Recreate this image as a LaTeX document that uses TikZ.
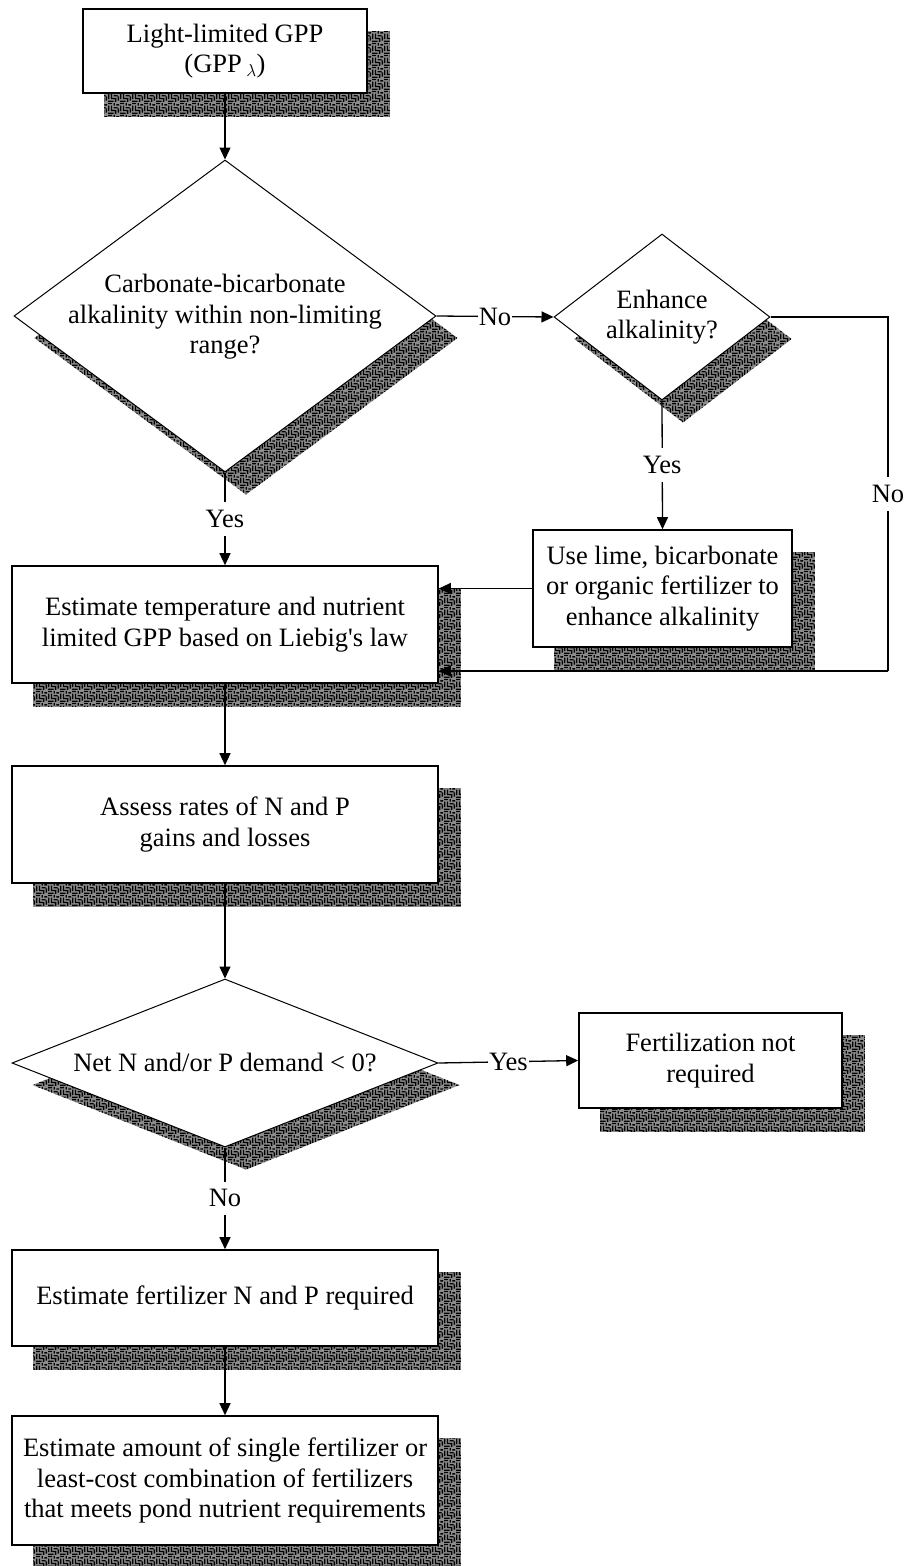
\documentclass[tikz,border=0pt]{standalone}
\usepackage{fontspec}
\setmainfont{Liberation Serif}
\usetikzlibrary{arrows.meta,shapes.geometric,patterns,backgrounds}
\pgfdeclarepatternformonly{maze}{\pgfpointorigin}{\pgfpoint{12pt}{12pt}}{\pgfpoint{12pt}{12pt}}{%
  \pgfpathrectangle{\pgfpoint{0pt}{0pt}}{\pgfpoint{6pt}{1.5pt}}%
  \pgfpathrectangle{\pgfpoint{7.5pt}{0pt}}{\pgfpoint{1.5pt}{4.5pt}}%
  \pgfpathrectangle{\pgfpoint{0pt}{3pt}}{\pgfpoint{1.5pt}{6pt}}%
  \pgfpathrectangle{\pgfpoint{3pt}{3pt}}{\pgfpoint{4.5pt}{1.5pt}}%
  \pgfpathrectangle{\pgfpoint{3pt}{4.5pt}}{\pgfpoint{1.5pt}{4.5pt}}%
  \pgfpathrectangle{\pgfpoint{6pt}{6pt}}{\pgfpoint{4.5pt}{1.5pt}}%
  \pgfpathrectangle{\pgfpoint{10.5pt}{1.5pt}}{\pgfpoint{1.5pt}{4.5pt}}%
  \pgfpathrectangle{\pgfpoint{6pt}{9pt}}{\pgfpoint{1.5pt}{3pt}}%
  \pgfpathrectangle{\pgfpoint{9pt}{9pt}}{\pgfpoint{3pt}{1.5pt}}%
  \pgfpathrectangle{\pgfpoint{0pt}{10.5pt}}{\pgfpoint{4.5pt}{1.5pt}}%
  \pgfusepath{fill}}
\begin{document}
\begin{tikzpicture}[x=1pt,y=-1pt,
  txtfont/.style={font=\fontsize{26.5}{30.5}\selectfont},
  box/.style={draw, line width=1.6pt, fill=white, inner sep=0pt, align=center, txtfont},
  dia/.style={draw, line width=1pt, fill=white, shape=diamond, inner sep=0pt},
  txt/.style={inner sep=0pt, align=center, txtfont},
  lbl/.style={fill=white, inner xsep=1pt, inner ysep=8pt, txtfont},
  conn/.style={line width=1.3pt, -{Triangle[length=12pt,width=11pt]}},
  plain/.style={line width=1.3pt},
  shadeback/.style={fill=black!45},
  shade/.style={pattern=maze, pattern color=black}]
\useasboundingbox (0,0) rectangle (905,1566);

% nodes
\node[box, minimum width=284, minimum height=84] (b1) at (225,51) {Light-limited GPP\\(GPP\,$_{\lambda}$)};
\node[dia, minimum width=422, minimum height=312] (d1) at (225,316) {};
\node[txt] (t1) at (225,317) {Carbonate-bicarbonate\\alkalinity within non-limiting\\range?};
\node[dia, minimum width=216, minimum height=166] (d2) at (662,317) {};
\node[txt] (t2) at (662,317) {Enhance\\alkalinity?};
\node[box, minimum width=259, minimum height=117] (b4) at (662.5,588.5) {Use lime, bicarbonate\\or organic fertilizer to\\enhance alkalinity};
\node[box, minimum width=426, minimum height=117] (b2) at (225,624.5) {Estimate temperature and nutrient\\limited GPP based on Liebig\textquotesingle s law};
\node[box, minimum width=426, minimum height=117] (b3) at (225,824.5) {Assess rates of N and P\\gains and losses};
\node[dia, minimum width=426, minimum height=168] (d3) at (225,1063) {};
\node[txt] (t3) at (225,1062) {Net N and/or P demand < 0?};
\node[box, minimum width=263, minimum height=95] (b5) at (710.5,1060.5) {Fertilization not\\required};
\node[box, minimum width=426, minimum height=96] (b6) at (225,1298) {Estimate fertilizer N and P required};
\node[box, minimum width=426, minimum height=129] (b7) at (225,1480.5) {Estimate amount of single fertilizer or\\least-cost combination of fertilizers\\that meets pond nutrient requirements};

% shadows
\begin{scope}[on background layer]
\foreach \n in {b1,b2,b3,b4,b5,b6,b7}{
  \path[shadeback] ([shift={(22,23)}]\n.north west) rectangle ([shift={(22,23)}]\n.south east);
  \path[shade] ([shift={(22,23)}]\n.north west) rectangle ([shift={(22,23)}]\n.south east);}
\foreach \n in {d1,d2,d3}{
  \path[shadeback] ([shift={(21,22)}]\n.north) -- ([shift={(21,22)}]\n.east) -- ([shift={(21,22)}]\n.south) -- ([shift={(21,22)}]\n.west) -- cycle;
  \path[shade] ([shift={(21,22)}]\n.north) -- ([shift={(21,22)}]\n.east) -- ([shift={(21,22)}]\n.south) -- ([shift={(21,22)}]\n.west) -- cycle;}
\end{scope}

% connectors
\coordinate (rr) at (888,671);
\draw[conn] (b1.south) -- (d1.north);
\draw[conn] (d1.south) -- node[lbl] {Yes} (b2.north);
\draw[conn] (d1.east) -- node[lbl] {No} (d2.west);
\draw[conn] (d2.south) -- node[lbl] {Yes} (b4.north);
\draw[plain] (d2.east) -| node[lbl, pos=0.75] {No} (rr);
\draw[conn] (rr) -- (rr -| b2.east);
\draw[conn] (b4.west) -- (b4.west -| b2.east);
\draw[conn] (b2.south) -- (b3.north);
\draw[conn] (b3.south) -- (d3.north);
\draw[conn] (d3.east) -- node[lbl] {Yes} (b5.west);
\draw[conn] (d3.south) -- node[lbl] {No} (b6.north);
\draw[conn] (b6.south) -- (b7.north);
\end{tikzpicture}
\end{document}
